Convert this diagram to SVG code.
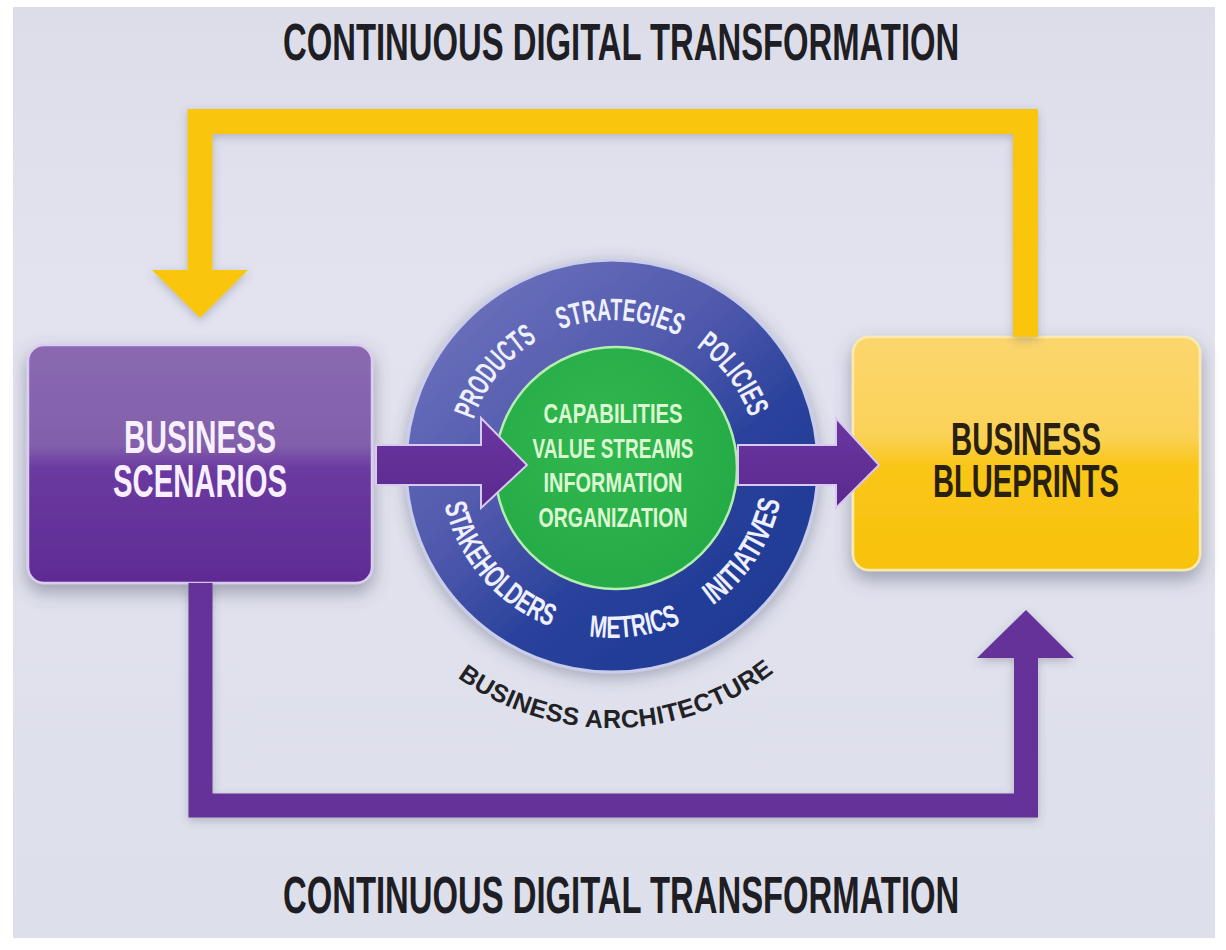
<svg xmlns="http://www.w3.org/2000/svg" width="1226" height="950" viewBox="0 0 1226 950">
<defs>
<style>
.t{font-family:"Liberation Sans","Roboto",Arial,sans-serif;font-weight:bold;}
.title{font-size:51px;fill:#1e1e24;}
.box{font-size:46px;}
.ring{font-size:31px;fill:#eef0ff;}
.core{font-size:28px;fill:#dcf8d2;}
.arch{font-size:25px;fill:#222226;}
.ylw{fill:none;stroke:#f9c50a;stroke-width:25;stroke-linejoin:miter;}
.prp{fill:none;stroke:#65309a;stroke-width:24;stroke-linejoin:miter;}
</style>
<linearGradient id="bg" x1="0" y1="0" x2="0" y2="1">
<stop offset="0" stop-color="#dcdde9"/>
<stop offset="0.3" stop-color="#e2e3ee"/>
<stop offset="1" stop-color="#dddfea"/>
</linearGradient>
<linearGradient id="gP" x1="0" y1="0" x2="0" y2="1">
<stop offset="0" stop-color="#8a69b1"/>
<stop offset="0.42" stop-color="#8260ab"/>
<stop offset="0.52" stop-color="#6a3aa0"/>
<stop offset="1" stop-color="#5f2b94"/>
</linearGradient>
<linearGradient id="gY" x1="0" y1="0" x2="0" y2="1">
<stop offset="0" stop-color="#fbd66e"/>
<stop offset="0.42" stop-color="#fbd258"/>
<stop offset="0.55" stop-color="#f9c619"/>
<stop offset="1" stop-color="#f8c20a"/>
</linearGradient>
<linearGradient id="gRing" x1="0.15" y1="0.1" x2="0.85" y2="0.9">
<stop offset="0" stop-color="#6a6fba"/>
<stop offset="0.4" stop-color="#4e58ac"/>
<stop offset="0.65" stop-color="#2a429c"/>
<stop offset="1" stop-color="#1e3a94"/>
</linearGradient>
<radialGradient id="gGreen" cx="0.45" cy="0.4" r="0.6">
<stop offset="0" stop-color="#31b84e"/>
<stop offset="1" stop-color="#24ab47"/>
</radialGradient>
<linearGradient id="gArrow" x1="0" y1="0" x2="0" y2="1">
<stop offset="0" stop-color="#6b35a0"/>
<stop offset="1" stop-color="#5a2a8e"/>
</linearGradient>
<filter id="sh" x="-20%" y="-20%" width="140%" height="150%">
<feDropShadow dx="0" dy="8" stdDeviation="9" flood-color="#4a4c66" flood-opacity="0.45"/>
</filter>
<filter id="shc" x="-20%" y="-20%" width="140%" height="140%">
<feDropShadow dx="0" dy="4" stdDeviation="8" flood-color="#4a4c66" flood-opacity="0.4"/>
</filter>
<filter id="shl" x="-10%" y="-30%" width="120%" height="160%">
<feDropShadow dx="0" dy="3" stdDeviation="4" flood-color="#4a4c66" flood-opacity="0.3"/>
</filter>
<path id="arcTop" d="M 466,466 A 146 146 0 0 1 758,466"/>
<path id="arcBot" d="M 440,466 A 172 172 0 0 0 784,466"/>
<path id="arcArch" d="M 350,466 A 262 262 0 0 0 874,466"/>
</defs>

<rect x="0" y="0" width="1226" height="950" fill="#ffffff"/>
<rect x="13" y="7" width="1202" height="931" fill="url(#bg)"/>

<g id="title-top">
<text class="t title" transform="translate(283,60) scale(0.632,1)" x="0" y="0" textLength="1070" lengthAdjust="spacingAndGlyphs">CONTINUOUS DIGITAL TRANSFORMATION</text>
</g>
<g id="title-bottom">
<text class="t title" transform="translate(283,913) scale(0.632,1)" x="0" y="0" textLength="1070" lengthAdjust="spacingAndGlyphs">CONTINUOUS DIGITAL TRANSFORMATION</text>
</g>

<g id="business-architecture">
<circle cx="612" cy="466" r="206" fill="url(#gRing)" stroke="#c9cdea" stroke-width="3" filter="url(#shc)"/>
<circle cx="616" cy="468" r="121" fill="url(#gGreen)" stroke="#b4eeb0" stroke-width="2.5"/>
<text class="t ring"><textPath href="#arcTop" startOffset="99" text-anchor="middle" textLength="104" lengthAdjust="spacingAndGlyphs">PRODUCTS</textPath></text>
<text class="t ring"><textPath href="#arcTop" startOffset="237" text-anchor="middle" textLength="122" lengthAdjust="spacingAndGlyphs">STRATEGIES</textPath></text>
<text class="t ring"><textPath href="#arcTop" startOffset="364" text-anchor="middle" textLength="90" lengthAdjust="spacingAndGlyphs">POLICIES</textPath></text>
<text class="t ring"><textPath href="#arcBot" startOffset="123" text-anchor="middle" textLength="168" lengthAdjust="spacingAndGlyphs">STAKEHOLDERS</textPath></text>
<text class="t ring"><textPath href="#arcBot" startOffset="294" text-anchor="middle" textLength="94" lengthAdjust="spacingAndGlyphs">METRICS</textPath></text>
<text class="t ring"><textPath href="#arcBot" startOffset="441" text-anchor="middle" textLength="127" lengthAdjust="spacingAndGlyphs">INITIATIVES</textPath></text>
<text class="t core" x="543.5" y="423" textLength="139" lengthAdjust="spacingAndGlyphs">CAPABILITIES</text>
<text class="t core" x="532.5" y="458" textLength="161" lengthAdjust="spacingAndGlyphs">VALUE STREAMS</text>
<text class="t core" x="543.5" y="492" textLength="139" lengthAdjust="spacingAndGlyphs">INFORMATION</text>
<text class="t core" x="538.5" y="527" textLength="149" lengthAdjust="spacingAndGlyphs">ORGANIZATION</text>
<text class="t arch"><textPath href="#arcArch" startOffset="416" text-anchor="middle" textLength="340" lengthAdjust="spacing">BUSINESS ARCHITECTURE</textPath></text>
</g>

<g id="business-scenarios">
<rect x="28" y="345" width="344" height="238" rx="16" fill="url(#gP)" stroke="#dccbf2" stroke-width="2.5" filter="url(#sh)"/>
<text class="t box" x="124" y="453" fill="#f8f0ff" textLength="152" lengthAdjust="spacingAndGlyphs">BUSINESS</text>
<text class="t box" x="113" y="497" fill="#f8f0ff" textLength="174" lengthAdjust="spacingAndGlyphs">SCENARIOS</text>
</g>

<g id="business-blueprints">
<rect x="853" y="337" width="347" height="233" rx="16" fill="url(#gY)" stroke="#fbeab0" stroke-width="2.5" filter="url(#sh)"/>
<text class="t box" x="951" y="455" fill="#2a2010" textLength="150" lengthAdjust="spacingAndGlyphs">BUSINESS</text>
<text class="t box" x="933" y="497" fill="#2a2010" textLength="186" lengthAdjust="spacingAndGlyphs">BLUEPRINTS</text>
</g>

<g id="connectors">
<g filter="url(#shl)">
<path class="ylw" d="M 1025.5,337 V 121.5 H 200 V 272"/>
<polygon points="152,270 248,270 200,318" fill="#f9c50a"/>
</g>
<g filter="url(#shl)">
<path class="prp" d="M 200.5,583 V 805.5 H 1026 V 656"/>
<polygon points="977,658 1074,658 1026,610" fill="#65309a"/>
</g>
<polygon points="376,445 481,445 481,418 527,465 481,508 481,485 376,485" fill="url(#gArrow)" stroke="#d9c8f0" stroke-width="2"/>
<polygon points="738,445 836,445 836,418 879,465 836,508 836,485 738,485" fill="url(#gArrow)" stroke="#d9c8f0" stroke-width="2"/>
</g>
</svg>
